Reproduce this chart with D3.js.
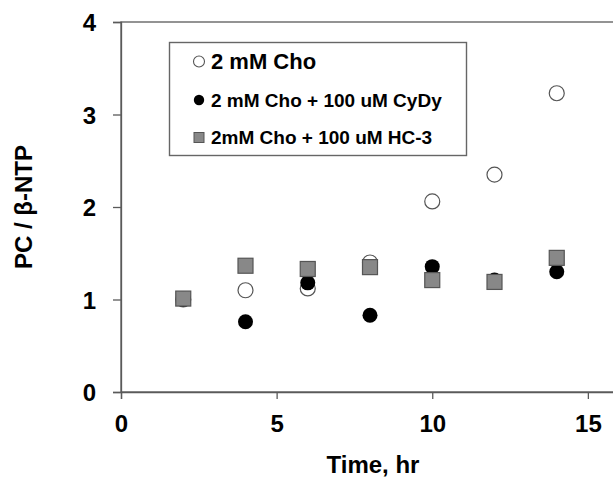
<!DOCTYPE html>
<html>
<head>
<meta charset="utf-8">
<script src="https://cdn.jsdelivr.net/npm/d3@7"></script>
<style>
  body { margin: 0; background: #fff; }
  text { font-family: "Liberation Sans", Arial, sans-serif; font-weight: bold; fill: #000; }
</style>
</head>
<body>
<div id="chart"></div>
<script>
var width = 613, height = 480;

// time points (hr)
var times = [2, 4, 6, 8, 10, 12, 14];
// PC / beta-NTP for each condition
var cho = [1.0, 1.10, 1.12, 1.40, 2.06, 2.35, 3.23];
var choCyDy = [1.0, 0.76, 1.18, 0.83, 1.355, 1.21, 1.30];
var choHC3 = [1.01, 1.365, 1.33, 1.35, 1.21, 1.19, 1.45];

var xTicks = [0, 5, 10, 15];
var yTicks = [0, 1, 2, 3, 4];
var legendLabels = ['2 mM Cho', '2 mM Cho + 100 uM CyDy', '2mM Cho + 100 uM HC-3'];

var svg = d3.select('#chart')
    .append('svg')
    .attr('width', width)
    .attr('height', height);

var x = d3.scaleLinear().domain([0, 16]).range([121, 619]);
var y = d3.scaleLinear().domain([0, 4]).range([392, 22]);

var axisColor = '#5a5a5a';

// plot frame (top line, right side falls off the page)
svg.append('rect')
    .attr('x', x(0)).attr('y', y(4))
    .attr('width', x(16) - x(0)).attr('height', y(0) - y(4))
    .attr('fill', 'none')
    .attr('stroke', axisColor)
    .attr('stroke-width', 1.3);

// x axis
var xAxis = svg.append('g')
    .attr('transform', 'translate(0,' + y(0) + ')')
    .call(d3.axisBottom(x).tickValues(xTicks).tickSize(7).tickPadding(16).tickFormat(d3.format('d')));
// y axis
var yAxis = svg.append('g')
    .attr('transform', 'translate(' + x(0) + ',0)')
    .call(d3.axisLeft(y).tickValues(yTicks).tickSize(8).tickPadding(17).tickFormat(d3.format('d')));

[xAxis, yAxis].forEach(function (ax) {
    ax.select('.domain').attr('stroke', axisColor).attr('stroke-width', 1.3);
    ax.selectAll('.tick line').attr('stroke', axisColor).attr('stroke-width', 1.3);
    ax.selectAll('.tick text')
        .attr('fill', '#000')
        .style('font-size', '24px')
        .style('font-family', '"Liberation Sans", Arial, sans-serif')
        .style('font-weight', 'bold');
});
yAxis.selectAll('.tick text').attr('dy', '0.36em');

// axis titles
svg.append('text')
    .attr('x', 373).attr('y', 473)
    .attr('text-anchor', 'middle')
    .style('font-size', '24px')
    .text('Time, hr');

svg.append('text')
    .attr('transform', 'translate(32,207) rotate(-90)')
    .attr('text-anchor', 'middle')
    .style('font-size', '24px')
    .text('PC / \u03b2-NTP');

// markers: open circles, then filled circles, then squares on top
var r = 7.5, sq = 15;

svg.append('g').selectAll('circle')
    .data(times).enter()
    .append('circle')
    .attr('cx', function (d) { return x(d); })
    .attr('cy', function (d, i) { return y(cho[i]); })
    .attr('r', r)
    .attr('fill', '#fff')
    .attr('stroke', '#555')
    .attr('stroke-width', 1.2);

svg.append('g').selectAll('circle')
    .data(times).enter()
    .append('circle')
    .attr('cx', function (d) { return x(d); })
    .attr('cy', function (d, i) { return y(choCyDy[i]); })
    .attr('r', r)
    .attr('fill', '#000');

svg.append('g').selectAll('rect')
    .data(times).enter()
    .append('rect')
    .attr('x', function (d) { return x(d) - sq / 2; })
    .attr('y', function (d, i) { return y(choHC3[i]) - sq / 2; })
    .attr('width', sq)
    .attr('height', sq)
    .attr('fill', '#888')
    .attr('stroke', '#555')
    .attr('stroke-width', 1.2);

// legend
var legend = svg.append('g');
legend.append('rect')
    .attr('x', 169.5).attr('y', 42.5)
    .attr('width', 297).attr('height', 113)
    .attr('fill', '#fff')
    .attr('stroke', '#666')
    .attr('stroke-width', 1.4);

var rowY = [61.5, 100, 137.5];
var rowSize = ['22px', '19px', '19px'];

legend.selectAll('text')
    .data(legendLabels).enter()
    .append('text')
    .attr('x', 211)
    .attr('y', function (d, i) { return rowY[i]; })
    .attr('dy', '0.36em')
    .style('font-size', function (d, i) { return rowSize[i]; })
    .text(function (d) { return d; });

legend.append('circle')
    .attr('cx', 199).attr('cy', rowY[0]).attr('r', 5.5)
    .attr('fill', '#fff').attr('stroke', '#555').attr('stroke-width', 1.1);
legend.append('circle')
    .attr('cx', 199).attr('cy', rowY[1]).attr('r', 5.2)
    .attr('fill', '#000');
legend.append('rect')
    .attr('x', 199 - 5).attr('y', rowY[2] - 5)
    .attr('width', 10).attr('height', 10)
    .attr('fill', '#888').attr('stroke', '#555').attr('stroke-width', 1);
</script>
</body>
</html>
